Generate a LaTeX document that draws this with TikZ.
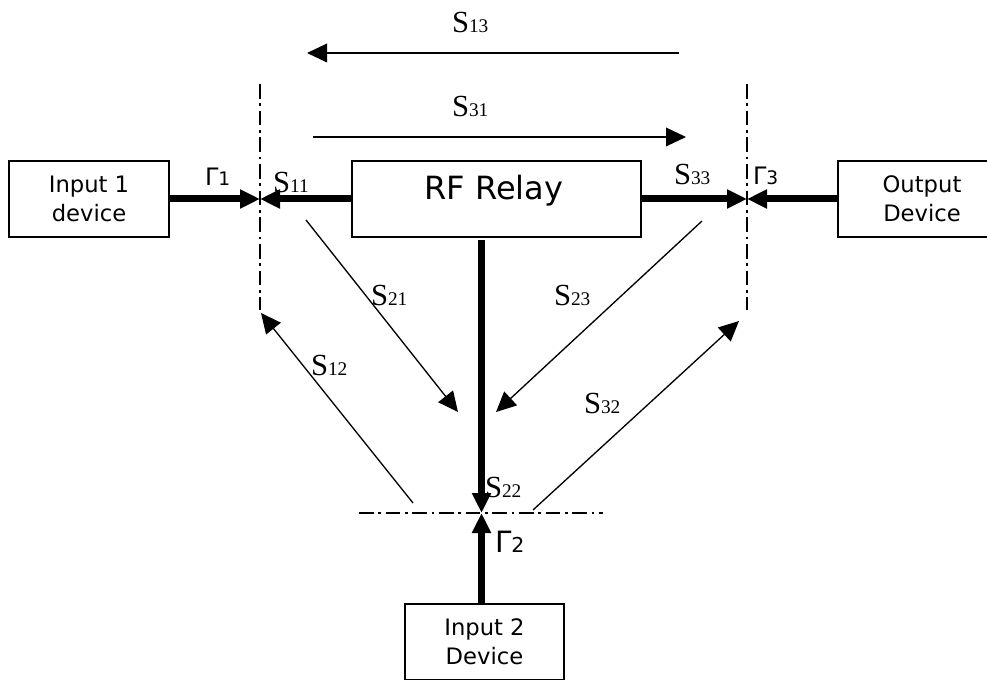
\documentclass[tikz,border=0pt]{standalone}
\usepackage{fontspec}
\setmainfont{DejaVu Sans}
\newfontfamily\tms{Liberation Serif}
\usetikzlibrary{arrows.meta}
\newcommand{\Slab}[1]{{\tms\fontsize{23}{23}\selectfont S\fontsize{14.5}{14.5}\selectfont #1}}
\newcommand{\Glab}[1]{{\fontsize{18}{18}\selectfont Γ\fontsize{14}{14}\selectfont #1}}
\newcommand{\Gbig}[1]{{\fontsize{22}{22}\selectfont Γ\fontsize{15.4}{15.4}\selectfont #1}}
\tikzset{
  devbox/.style={draw, line width=1pt, inner sep=0pt, outer sep=0pt, minimum height=57pt,
    align=center, font=\fontsize{17}{21.75}\selectfont},
  thickarrow/.style={line width=5.25pt, -{Triangle[length=15pt,width=13.5pt]}},
  thinarrow/.style={line width=1pt, -{Triangle[length=15pt,width=14pt]}},
  refline/.style={line width=1pt, dash pattern=on 11pt off 3.5pt on 2pt off 3.5pt},
  lbl/.style={anchor=base west, inner sep=0pt, outer sep=0pt}
}
\begin{document}
\begin{tikzpicture}[x=0.75pt,y=-0.75pt]
\clip (0,0) rectangle (987,680);
\fill[white] (0,0) rectangle (987,680);
% boxes
\node[devbox, minimum width=120pt] (in1) at (89,199) {Input 1\\device};
\node[devbox, minimum width=216.75pt] (relay) at (496.5,199) {};
\node[inner sep=0pt, font=\fontsize{24}{24}\selectfont] (relaytext) at (494,191) {RF Relay};
\node[devbox, minimum width=126pt] (out) at (922,199) {Output\\Device};
\node[devbox, minimum width=119.25pt] (in2) at (484.5,642) {Input 2\\Device};
% reference points
\coordinate (p1) at (260,199);
\coordinate (p3) at (747,199);
\coordinate (p2) at (481.5,513);
% reference planes
\coordinate (v1t) at (260,84); \coordinate (v1b) at (260,310);
\coordinate (v3t) at (747,84); \coordinate (v3b) at (747,310);
\coordinate (h2l) at (359,513); \coordinate (h2r) at (603,513);
\draw[refline] (v1t) -- (v1b);
\draw[refline] (v3t) -- (v3b);
\draw[refline] (h2l) -- (h2r);
% thick arrows
\draw[thickarrow] (in1.east) -- (p1);
\draw[thickarrow] (relay.west) -- (p1);
\draw[thickarrow] (relay.east) -- (p3);
\draw[thickarrow] (out.west) -- (p3);
\draw[thickarrow] ([yshift=-2.25pt]relay.south -| p2) -- (p2);
\draw[thickarrow] (in2.north -| p2) -- (p2);
% thin arrows
\coordinate (a13s) at (679,53); \coordinate (a13e) at (307,53);
\coordinate (a31s) at (313,137); \coordinate (a31e) at (686,137);
\coordinate (a21s) at (306,220); \coordinate (a21e) at (458,412);
\coordinate (a23s) at (702,221); \coordinate (a23e) at (496,412);
\coordinate (a12s) at (413,503); \coordinate (a12e) at (261,313);
\coordinate (a32s) at (533,510); \coordinate (a32e) at (739,321);
\draw[thinarrow] (a13s) -- (a13e);
\draw[thinarrow] (a31s) -- (a31e);
\draw[thinarrow] (a21s) -- (a21e);
\draw[thinarrow] (a23s) -- (a23e);
\draw[thinarrow] (a12s) -- (a12e);
\draw[thinarrow] (a32s) -- (a32e);
% labels
\node[lbl] (l13) at (452,33) {\Slab{13}};
\node[lbl] (l31) at (452,117) {\Slab{31}};
\node[lbl] (l11) at (273,193) {\Slab{11}};
\node[lbl] (l33) at (674,185) {\Slab{33}};
\node[lbl] (l21) at (371,306) {\Slab{21}};
\node[lbl] (l23) at (554,306) {\Slab{23}};
\node[lbl] (l12) at (311,375) {\Slab{12}};
\node[lbl] (l32) at (584,413) {\Slab{32}};
\node[lbl] (l22) at (485,497) {\Slab{22}};
\node[lbl] (g1) at (205,186) {\Glab{1}};
\node[lbl] (g3) at (753,185) {\Glab{3}};
\node[lbl] (g2) at (495,552) {\Gbig{2}};
\end{tikzpicture}
\end{document}
